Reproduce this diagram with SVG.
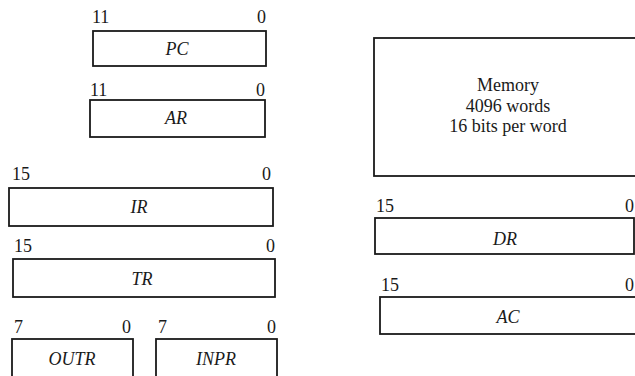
<svg xmlns="http://www.w3.org/2000/svg" width="635" height="376" viewBox="0 0 635 376">
<style>
.box{fill:#fff;stroke:#1a1a1a;stroke-width:1.8}
.num{font-family:"Liberation Serif","Times New Roman",serif;font-size:18px;fill:#1a1a1a}
.end{text-anchor:end}
.name{font-family:"Liberation Serif","Times New Roman",serif;font-size:18px;font-style:italic;fill:#1a1a1a;text-anchor:middle}
.mem{font-family:"Liberation Serif","Times New Roman",serif;font-size:18px;fill:#1a1a1a;text-anchor:middle}
</style>
<rect width="635" height="376" fill="#fff"/>
<g id="PC">
<rect class="box" x="93" y="31" width="173" height="35"/>
<text class="num" x="92" y="23">11</text>
<text class="num end" x="266" y="23">0</text>
<text class="name" x="177" y="55">PC</text>
</g>
<g id="AR">
<rect class="box" x="90" y="100" width="175" height="37"/>
<text class="num" x="90" y="96">11</text>
<text class="num end" x="265" y="96">0</text>
<text class="name" x="176" y="124">AR</text>
</g>
<g id="IR">
<rect class="box" x="9" y="188" width="264" height="38"/>
<text class="num" x="12" y="180">15</text>
<text class="num end" x="271" y="180">0</text>
<text class="name" x="139" y="213">IR</text>
</g>
<g id="TR">
<rect class="box" x="13" y="259" width="262" height="38"/>
<text class="num" x="14" y="252">15</text>
<text class="num end" x="275" y="252">0</text>
<text class="name" x="142" y="285">TR</text>
</g>
<g id="OUTR">
<rect class="box" x="12" y="339" width="121" height="42"/>
<text class="num" x="14" y="333">7</text>
<text class="num end" x="131" y="333">0</text>
<text class="name" x="72" y="365">OUTR</text>
</g>
<g id="INPR">
<rect class="box" x="156" y="339" width="121" height="42"/>
<text class="num" x="158" y="333">7</text>
<text class="num end" x="276" y="333">0</text>
<text class="name" x="216" y="365">INPR</text>
</g>
<g id="Memory">
<rect class="box" x="374" y="38" width="270" height="138"/>
<text class="mem" x="508" y="91">Memory</text>
<text class="mem" x="508" y="112">4096 words</text>
<text class="mem" x="508" y="132">16 bits per word</text>
</g>
<g id="DR">
<rect class="box" x="375" y="218" width="259" height="36"/>
<text class="num" x="376" y="212">15</text>
<text class="num end" x="634" y="212">0</text>
<text class="name" x="505" y="245">DR</text>
</g>
<g id="AC">
<rect class="box" x="380" y="297" width="270" height="37"/>
<text class="num" x="381" y="291">15</text>
<text class="num end" x="634" y="291">0</text>
<text class="name" x="508" y="323">AC</text>
</g>
<g id="connectors"></g>
</svg>
